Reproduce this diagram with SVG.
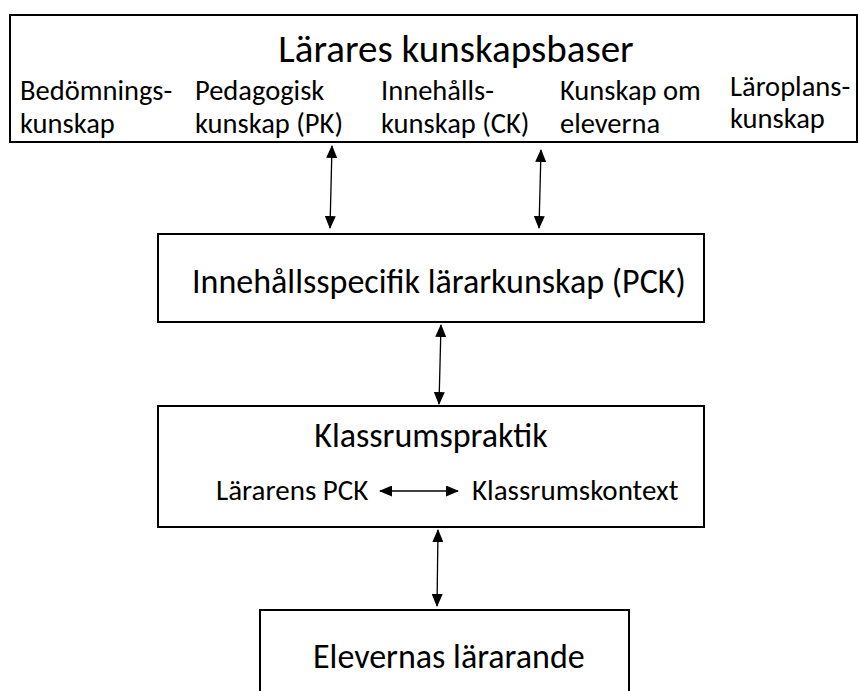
<svg xmlns="http://www.w3.org/2000/svg" width="859" height="691" viewBox="0 0 859 691">
<style>
.box{fill:#fff;stroke:#000;stroke-width:2}
text{font-family:Carlito,Lato,"Liberation Sans",sans-serif;fill:#000}
.t{font-size:39px}
.b{font-size:34px}
.s{font-size:28.5px}
.m{font-size:29px}
.c{stroke:#000;stroke-width:1.3;fill:none;marker-start:url(#ah);marker-end:url(#ah)}
</style>
<defs>
<marker id="ah" viewBox="0 0 13 11" refX="12" refY="5.5" markerWidth="13" markerHeight="11" markerUnits="userSpaceOnUse" orient="auto-start-reverse">
<path d="M0,0 L13,5.5 L0,11 Z" fill="#000"/>
</marker>
</defs>
<rect width="859" height="691" fill="#fff"/>
<g id="kunskapsbaser">
<rect class="box" x="10" y="15" width="847" height="127"/>
<text class="t" x="456" y="62" text-anchor="middle">Lärares kunskapsbaser</text>
<text class="s" x="20" y="100">Bedömnings-</text>
<text class="s" x="20" y="133">kunskap</text>
<text class="s" x="195" y="100">Pedagogisk</text>
<text class="s" x="195" y="133">kunskap (PK)</text>
<text class="s" x="381" y="100">Innehålls-</text>
<text class="s" x="381" y="133">kunskap (CK)</text>
<text class="s" x="560" y="100">Kunskap om</text>
<text class="s" x="560" y="133">eleverna</text>
<text class="s" x="730" y="96">Läroplans-</text>
<text class="s" x="730" y="128">kunskap</text>
</g>
<g id="pck">
<rect class="box" x="158" y="234" width="546" height="88"/>
<text class="b" x="192" y="293">Innehållsspecifik lärarkunskap (PCK)</text>
</g>
<g id="klassrumspraktik">
<rect class="box" x="158" y="406" width="546" height="121"/>
<text class="b" x="431" y="447" text-anchor="middle">Klassrumspraktik</text>
<text class="m" x="216" y="500">Lärarens PCK</text>
<text class="m" x="472" y="500">Klassrumskontext</text>
</g>
<g id="elevernas">
<rect class="box" x="260" y="610" width="369" height="100"/>
<text class="b" x="313" y="668">Elevernas lärarande</text>
</g>
<g id="connectors">
<line class="c" x1="332" y1="146" x2="330" y2="228"/>
<line class="c" x1="541" y1="150" x2="539" y2="228"/>
<line class="c" x1="441" y1="325" x2="439" y2="404"/>
<line class="c" x1="438" y1="530" x2="437" y2="606"/>
<line class="c" x1="380" y1="491" x2="458" y2="491"/>
</g>
</svg>
